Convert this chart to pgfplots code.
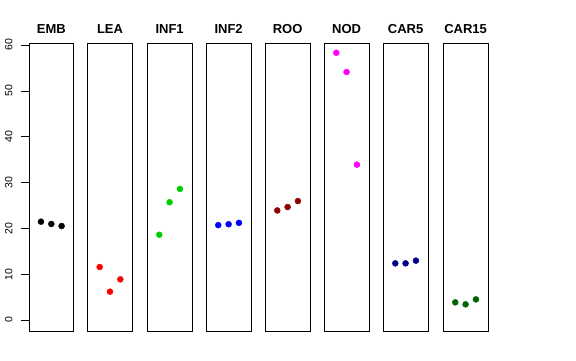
\documentclass[border=0pt]{standalone}
\usepackage{fontspec}
\setmainfont{Liberation Sans}
\usepackage{pgfplots}
\pgfplotsset{compat=1.18}
\definecolor{rgreen}{HTML}{00CD00}
\definecolor{rdarkred}{HTML}{8B0000}
\definecolor{rnavy}{HTML}{00008B}
\definecolor{rdarkgreen}{HTML}{006400}
\definecolor{rmagenta}{HTML}{FF00FF}
\definecolor{rred}{HTML}{FF0000}
\definecolor{rblue}{HTML}{0000FF}
\pgfplotsset{panel/.style={scale only axis, width=44.6pt, height=287.7pt,
  xmin=-0.16, xmax=4.16, ymin=-2.4, ymax=60.37,
  xtick=\empty, ytick=\empty, axis line style={black, line width=0.8pt},
  anchor=south west,
  title style={font=\bfseries\fontsize{13}{15}\selectfont, at={(0.5,1)}, anchor=base, yshift=4pt},
  /pgf/number format/assume math mode=true}}
\tikzset{pt/.style={only marks, mark=*, mark size=3pt}}
\begin{document}
\begin{tikzpicture}
\path[use as bounding box] (0pt,0pt) rectangle (576pt,360pt);
\begin{axis}[panel, at={(29pt,29pt)}, title={EMB},
  ytick={0,10,20,30,40,50,60}, ytick pos=left, tick align=outside, major tick length=8pt,
  ytick style={black, line width=0.6pt},
  yticklabel style={xshift=-5pt, rotate=90, anchor=south, font=\fontsize{10.5}{12}\selectfont}]
\addplot[pt, color=black] coordinates {(1,21.45)(2,20.95)(3,20.5)};
\end{axis}
\begin{axis}[panel, at={(87.7pt,29pt)}, title={LEA}]
\addplot[pt, color=rred] coordinates {(1,11.56)(2,6.18)(3,8.87)};
\end{axis}
\begin{axis}[panel, at={(147.3pt,29pt)}, title={INF1}]
\addplot[pt, color=rgreen] coordinates {(1,18.6)(2,25.7)(3,28.6)};
\end{axis}
\begin{axis}[panel, at={(206.3pt,29pt)}, title={INF2}]
\addplot[pt, color=rblue] coordinates {(1,20.7)(2,20.9)(3,21.2)};
\end{axis}
\begin{axis}[panel, at={(265.3pt,29pt)}, title={ROO}]
\addplot[pt, color=rdarkred] coordinates {(1,23.9)(2,24.65)(3,25.95)};
\end{axis}
\begin{axis}[panel, at={(324.3pt,29pt)}, title={NOD}]
\addplot[pt, color=rmagenta] coordinates {(1,58.3)(2,54.1)(3,33.9)};
\end{axis}
\begin{axis}[panel, at={(383.3pt,29pt)}, title={CAR5}]
\addplot[pt, color=rnavy] coordinates {(1,12.36)(2,12.36)(3,12.95)};
\end{axis}
\begin{axis}[panel, at={(443.3pt,29pt)}, title={CAR15}]
\addplot[pt, color=rdarkgreen] coordinates {(1,3.85)(2,3.42)(3,4.5)};
\end{axis}
\end{tikzpicture}
\end{document}
